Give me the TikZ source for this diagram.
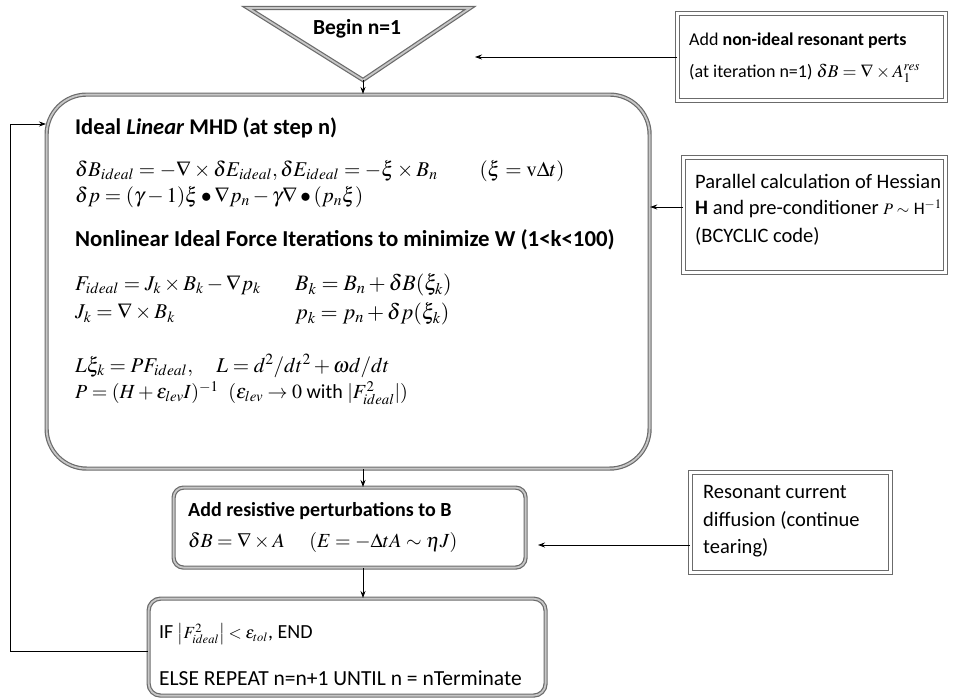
\documentclass[tikz,border=0pt]{standalone}
\usepackage{mathptmx}
\usepackage{fontspec}
\setmainfont{Carlito}
\usetikzlibrary{arrows.meta}
\definecolor{bord}{gray}{0.42}
\definecolor{bordin}{gray}{0.78}
\tikzset{
  dbl/.style={draw=bord, line width=1.2pt, double=bordin, double distance=1.8pt},
  dblw/.style={draw=bord, line width=1.1pt, double=white, double distance=2.2pt},
  txt/.style={anchor=west, inner sep=0pt, font=\fontsize{20.5}{24}\selectfont},
  btxt/.style={anchor=west, inner sep=0pt, font=\fontsize{22.5}{26}\selectfont\bfseries},
  mth/.style={anchor=west, inner sep=0pt, font=\fontsize{21}{25}\selectfont},
  conn/.style={draw=black, line width=0.8pt, -{Stealth[length=7pt,width=5pt]}},
}
\begin{document}
\begin{tikzpicture}[x=1pt,y=-1pt]
\useasboundingbox (0,0) rectangle (953,699);
% Begin triangle
\coordinate (tl) at (248,8);
\coordinate (tr) at (470,8);
\coordinate (apex) at (363,80);
\draw[dbl, line join=miter] (tl) -- (tr) -- (apex) -- cycle;
\node[btxt, anchor=center, font=\fontsize{21.5}{25}\selectfont\bfseries] (begin) at (357,29) {Begin n=1};
% main box
\node[dbl, rounded corners=40pt, minimum width=603pt, minimum height=374pt, anchor=north west, inner sep=0pt] (main) at (46,94) {};
\node[btxt] (t1) at (75,128) {Ideal \textit{Linear} MHD (at step n)};
\node[mth] (m1) at (75,171) {$\delta B_{ideal} = -\nabla\times\delta E_{ideal}, \delta E_{ideal} = -\xi\times B_n \qquad (\xi = \mathrm{v}\Delta t)$};
\node[mth] (m2) at (75,197) {$\delta p = (\gamma-1)\xi\bullet\nabla p_n - \gamma\nabla\bullet(p_n\xi)$};
\node[btxt, font=\fontsize{22.8}{26}\selectfont\bfseries] (t2) at (75,240) {Nonlinear Ideal Force Iterations to minimize W (1<k<100)};
\node[mth] (m3) at (75,285) {$F_{ideal} = J_k\times B_k - \nabla p_k$};
\node[mth, font=\fontsize{22}{26}\selectfont] (m4) at (295,285) {$B_k = B_n + \delta B(\xi_k)$};
\node[mth] (m5) at (75,313) {$J_k = \nabla\times B_k$};
\node[mth, font=\fontsize{22}{26}\selectfont] (m6) at (295,314) {$p_k = p_n + \delta p(\xi_k)$};
\node[mth] (m7) at (75,366) {$L\xi_k = PF_{ideal},\quad L = d^2 / dt^2 + \omega d / dt$};
\node[mth, font=\fontsize{20}{24}\selectfont] (m8) at (75,393) {$P = (H+\varepsilon_{lev}I)^{-1}\enspace (\varepsilon_{lev}\to 0 \mbox{ with } |F^2_{ideal}|)$};
% resistive box
\node[dbl, rounded corners=10pt, minimum width=352pt, minimum height=80pt, anchor=north west, inner sep=0pt] (res) at (173,487) {};
\node[btxt, font=\fontsize{20}{24}\selectfont\bfseries] (t3) at (188,511) {Add resistive perturbations to B};
\node[mth, font=\fontsize{20}{24}\selectfont] (m9) at (188,542) {$\delta B = \nabla\times A \quad\ (E = -\Delta t A\sim \eta J)$};
% final box
\node[dbl, rounded corners=12pt, minimum width=397pt, minimum height=97pt, anchor=north west, inner sep=0pt] (fin) at (148,598) {};
\node[txt, font=\fontsize{20}{24}\selectfont] (t4) at (159,634) {IF {\fontsize{17}{20}\selectfont$\left|F^2_{ideal}\right| < \varepsilon_{tol}$}, END};
\node[txt, font=\fontsize{21.5}{25}\selectfont] (t5) at (159,678) {ELSE REPEAT n=n+1 UNTIL n = nTerminate};
% top right box
\node[dblw, minimum width=268pt, minimum height=87pt, anchor=north west, inner sep=0pt] (pert) at (677,13) {};
\node[txt, font=\fontsize{18}{22}\selectfont] (t6) at (689,41) {Add \textbf{non-ideal resonant perts}};
\node[txt, font=\fontsize{18}{22}\selectfont] (t7) at (689,73) {(at iteration n=1) $\delta B = \nabla\times A_1^{res}$};
% parallel box
\node[dblw, minimum width=262pt, minimum height=115pt, anchor=north west, inner sep=0pt] (par) at (683,157) {};
\node[txt] (t8) at (695,181) {Parallel calculation of Hessian};
\node[txt] (t9) at (695,209) {\textbf{H} and pre-conditioner {\fontsize{16}{19}\selectfont$P\sim$} {\fontsize{17.5}{20}\selectfont H$^{-1}$}};
\node[txt] (t10) at (695,236) {(BCYCLIC code)};
% resonant box
\node[dblw, minimum width=200pt, minimum height=100pt, anchor=north west, inner sep=0pt] (reso) at (690,472) {};
\node[txt] (t11) at (703,492) {Resonant current};
\node[txt] (t12) at (703,520) {diffusion (continue};
\node[txt] (t13) at (703,548) {tearing)};
% connectors
\coordinate (pertend) at (475,57);
\coordinate (resoend) at (538,545);
\coordinate (loopA) at (10,651);
\coordinate (loopB) at (10,124);
\draw[conn] (apex) -- (main.north -| apex);
\draw[conn] (main.south -| apex) -- (res.north -| apex);
\draw[conn] (res.south -| apex) -- (fin.north -| apex);
\draw[conn] (pert.west |- pertend) -- (pertend);
\draw[conn] (par.west |- 0,207) -- (main.east |- 0,207);
\draw[conn] (reso.west |- resoend) -- (resoend);
\draw[conn] (fin.west |- loopA) -- (loopA) -- (loopB) -- (main.west |- loopB);
\end{tikzpicture}
\end{document}
